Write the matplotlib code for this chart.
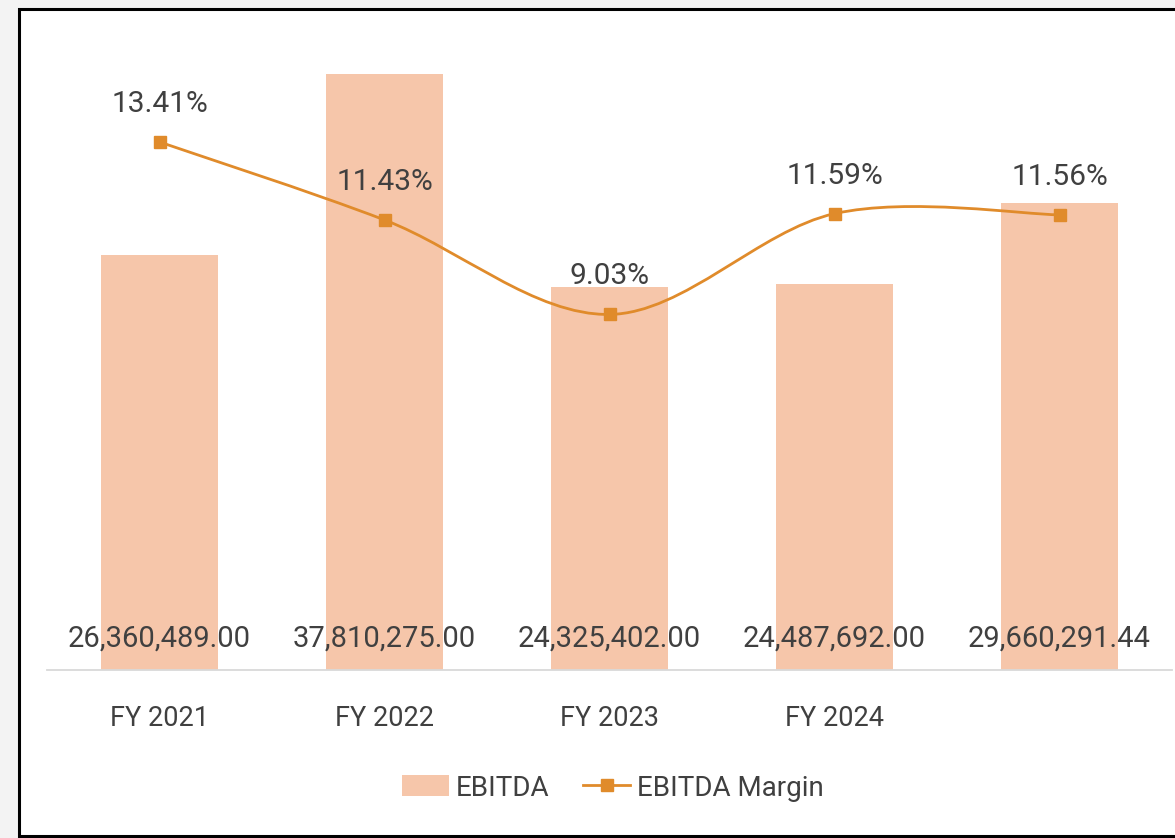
import matplotlib
matplotlib.use('Agg')
import matplotlib.pyplot as plt
import matplotlib.patches as patches
from matplotlib.path import Path
from matplotlib.lines import Line2D

plt.rcParams['font.family'] = ['Roboto', 'DejaVu Sans']

# --- DATA ---
years = ["FY 2021", "FY 2022", "FY 2023", "FY 2024", ""]
ebitda = [26360489.00, 37810275.00, 24325402.00, 24487692.00, 29660291.44]
margin = [13.41, 11.43, 9.03, 11.59, 11.56]

bar_color = '#F6C6AA'
line_color = '#E08B2B'
text_color = '#404040'

fig = plt.figure(figsize=(11.75, 8.38), dpi=100)
fig.patch.set_facecolor('#F3F3F3')

# white card with black frame
frame = patches.Rectangle((19 / 1175, 2 / 838), 1.2, 1 - 11 / 838, transform=fig.transFigure,
                          facecolor='white', edgecolor='black', linewidth=2.2, zorder=-5)
fig.patches.append(frame)

ax = fig.add_axes([47 / 1175, 1 - 670 / 838, (1172 - 47) / 1175, (670 - 40) / 838])
ax.set_facecolor('none')
x = list(range(len(years)))
ax.bar(x, ebitda, width=0.516, color=bar_color, zorder=1)
ax.set_xlim(-0.5, 4.5)
ax.set_ylim(0, 40e6)
ax.set_yticks([])
for s in ax.spines.values():
    s.set_visible(False)
ax.axhline(0, color='#D9D9D9', linewidth=1.3, zorder=2, clip_on=False)
ax.set_xticks(x)
ax.set_xticklabels(years, fontsize=19.5, color=text_color)
ax.tick_params(axis='x', length=0, pad=25)

for xi, v in zip(x, ebitda):
    ax.annotate(f"{v:,.2f}", (xi, 0), xytext=(0, 23), textcoords='offset pixels',
                ha='center', va='baseline', fontsize=21, color=text_color, zorder=5)

# secondary axis for margin
ax2 = ax.twinx()
ax2.set_ylim(0, 16)
ax2.set_yticks([])
for s in ax2.spines.values():
    s.set_visible(False)

# smooth line (Excel-style), bezier through the points
pts = list(zip(x, margin))
verts = [pts[0]]
codes = [Path.MOVETO]
n = len(pts)
for i in range(n - 1):
    p0 = pts[i - 1] if i > 0 else pts[i]
    p1 = pts[i]
    p2 = pts[i + 1]
    p3 = pts[i + 2] if i + 2 < n else pts[i + 1]
    c1 = (p1[0] + (p2[0] - p0[0]) / 6.0, p1[1] + (p2[1] - p0[1]) / 6.0)
    c2 = (p2[0] - (p3[0] - p1[0]) / 6.0, p2[1] - (p3[1] - p1[1]) / 6.0)
    verts += [c1, c2, p2]
    codes += [Path.CURVE4] * 3
ax2.add_patch(patches.PathPatch(Path(verts, codes), facecolor='none', edgecolor=line_color,
                                linewidth=2.0, zorder=3))
ax2.plot(x, margin, linestyle='none', marker='s', markersize=8.5, color=line_color, zorder=4)

for xi, m in zip(x, margin):
    ax2.annotate(f"{m:.2f}%", (xi, m), xytext=(0, 30), textcoords='offset pixels',
                 ha='center', va='baseline', fontsize=21.5, color=text_color)

handles = [patches.Patch(facecolor=bar_color, edgecolor='none', label='EBITDA'),
           Line2D([0], [0], color=line_color, linewidth=2.0, marker='s', markersize=8.5,
                  label='EBITDA Margin')]
fig.legend(handles=handles, loc='center', bbox_to_anchor=(613 / 1175, 1 - 788 / 838), ncol=2,
           frameon=False, fontsize=20, handlelength=1.7, handleheight=0.8, handletextpad=0.25,
           columnspacing=1.2, labelcolor=text_color)

fig.savefig('out.png', dpi=100, facecolor=fig.get_facecolor())
